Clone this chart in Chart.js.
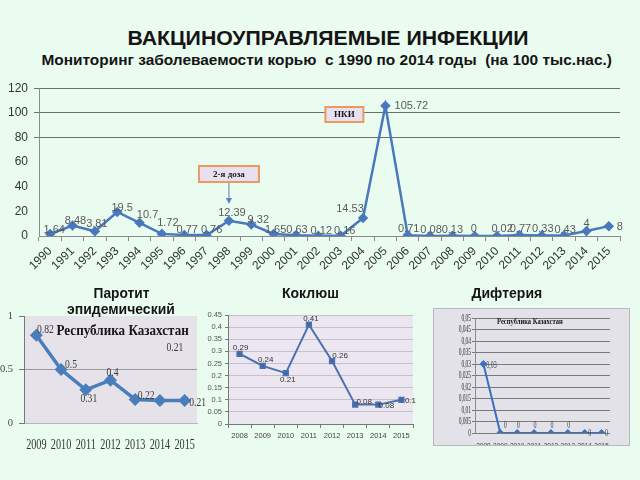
<!DOCTYPE html>
<html lang="ru">
<head>
  <meta charset="UTF-8">
  <title>Вакциноуправляемые инфекции</title>
  <script src="https://cdn.jsdelivr.net/npm/chart.js"></script>
  <style>
    html, body { margin: 0; padding: 0; }
    body {
      width: 640px; height: 480px; overflow: hidden; position: relative;
      background: #eafcf0;
      font-family: "Liberation Sans", Arial, sans-serif;
      color: #151515;
    }
    canvas { position: absolute; }
    .line { position: absolute; width: 1000px; text-align: center; white-space: nowrap; line-height: 1; }
    .line span { display: inline-block; transform-origin: center; }
    .bold { font-weight: bold; }
    .serif { font-family: "Liberation Serif", "Times New Roman", serif; }
    #diphPanel {
      position: absolute; left: 433px; top: 308px; width: 195px; height: 136px;
      background: #e4e2e9; border: 1px solid #b9b7c0;
    }
  </style>
</head>
<body>
  <div id="diphPanel"></div>
  <canvas id="measlesChart" width="640" height="215" style="left:0;top:75px"></canvas>
  <canvas id="mumpsChart" width="210" height="160" style="left:0;top:300px"></canvas>
  <canvas id="pertussisChart" width="220" height="150" style="left:200px;top:300px"></canvas>
  <canvas id="diphChart" width="196" height="137" style="left:433px;top:308px"></canvas>

  <div class="line bold" style="left:-172px;top:27px;font-size:21px" data-w="401"><span>ВАКЦИНОУПРАВЛЯЕМЫЕ ИНФЕКЦИИ</span></div>
  <div class="line bold" style="left:-173px;top:52px;font-size:15.5px" data-w="570"><span>Мониторинг заболеваемости корью&nbsp; с 1990 по 2014 годы&nbsp; (на 100 тыс.нас.)</span></div>

  <div class="line bold" style="left:-379px;top:286px;font-size:14.5px" data-w="56"><span>Паротит</span></div>
  <div class="line bold" style="left:-379px;top:302px;font-size:14.5px" data-w="108"><span>эпидемический</span></div>
  <div class="line bold" style="left:-190px;top:285px;font-size:15px" data-w="57"><span>Коклюш</span></div>
  <div class="line bold" style="left:7px;top:285px;font-size:15px" data-w="71"><span>Дифтерия</span></div>

  <div class="line bold serif" style="left:-377px;top:324px;font-size:14px" data-w="132"><span>Республика Казахстан</span></div>
  <div class="line bold serif" style="left:30px;top:317px;font-size:8.5px" data-w="66"><span>Республика Казахстан</span></div>

  <script>
    // Корь, 1990-2015 (на 100 тыс.)
    const years = ['1990', '1991', '1992', '1993', '1994', '1995', '1996', '1997', '1998', '1999', '2000', '2001', '2002',
                   '2003', '2004', '2005', '2006', '2007', '2008', '2009', '2010', '2011', '2012', '2013', '2014', '2015'];
    const measles = [1.64, 8.48, 3.81, 19.5, 10.7, 1.72, 0.77, 0.76, 12.39, 9.32, 1.65, 0.63, 0.12,
                     0.16, 14.53, 105.72, 0.71, 0.08, 0.13, 0, 0.02, 0.77, 0.33, 0.43, 4, 8];

    // Паротит эпидемический
    const mumpsYears = ['2009', '2010', '2011', '2012', '2013', '2014', '2015'];
    const mumps = [0.82, 0.5, 0.31, 0.4, 0.22, 0.21, 0.21];

    // Коклюш
    const pertussisYears = ['2008', '2009', '2010', '2011', '2012', '2013', '2014', '2015'];
    const pertussis = [0.29, 0.24, 0.21, 0.41, 0.26, 0.08, 0.08, 0.1];

    // Дифтерия
    const diphYears = ['2008', '2009', '2010', '2011', '2012', '2013', '2014', '2015'];
    const diphtheria = [0.03, 0, 0, 0, 0, 0, 0, 0];

    // where each value label sits relative to its point
    const measlesLabelPos = [[4, -4], [3, -5], [2, -7], [5, -4], [8, -8], [6, -11], [3, -5], [5, -5], [3, -8], [7, -5],
                             [2, -4], [1, -5], [3, -5], [4, -5], [-13, -9], [26, 0], [1, -6], [1, -6], [0, -6], [-1, -7],
                             [5, -7], [1, -6], [1, -7], [1, -6], [0, -7], [11, 1]];
    const mumpsLabelPos = [[9, -5], [10, -5], [3, 9], [2, -7], [11, -4], [15, -53], [13, 2]];
    const pertussisLabelPos = [[1, -6], [3, -6], [2, 7], [2, -6], [8, -5], [9, -3], [8, 1], [9, 1]];
    const diphLabelPos = [[8, 1], [5, -8], [1, -8], [1, -8], [1, -8], [1, -8], [5, 0], [5, 0]];

    const comma = v => String(+v.toFixed(3)).replace('.', ',');

    // text next to every point
    const valueLabels = {
      id: 'valueLabels',
      afterDatasetsDraw(chart, args, o) {
        if (!o.pos) return;
        const ctx = chart.ctx;
        const meta = chart.getDatasetMeta(0);
        const vals = chart.data.datasets[0].data;
        ctx.save();
        ctx.font = o.font;
        ctx.fillStyle = o.color;
        ctx.textAlign = 'center';
        ctx.textBaseline = 'middle';
        meta.data.forEach((pt, i) => {
          ctx.save();
          ctx.translate(pt.x + o.pos[i][0], pt.y + o.pos[i][1]);
          ctx.scale(o.sx || 1, 1);
          ctx.fillText(o.format ? o.format(vals[i]) : String(vals[i]), 0, 0);
          ctx.restore();
        });
        ctx.restore();
      }
    };

    // plot area fill
    const plotBg = {
      id: 'plotBg',
      beforeDraw(chart, args, o) {
        if (!o.color) return;
        const { ctx, chartArea: a } = chart;
        ctx.save();
        ctx.fillStyle = o.color;
        ctx.fillRect(a.left, a.top, a.width, a.height);
        ctx.restore();
      }
    };

    // condensed tick labels (the small charts use a narrow serif face)
    const narrowTicks = {
      id: 'narrowTicks',
      afterDraw(chart, args, o) {
        if (!o.axis) return;
        const ctx = chart.ctx;
        const s = chart.scales[o.axis];
        ctx.save();
        ctx.font = o.font;
        ctx.fillStyle = o.color;
        s.ticks.forEach((t, i) => {
          const txt = o.format ? o.format(t.value) : s.getLabelForValue(t.value);
          ctx.save();
          if (o.axis === 'x') {
            ctx.textAlign = 'center';
            ctx.textBaseline = 'middle';
            ctx.translate(s.getPixelForTick(i), s.top + o.gap);
          } else {
            ctx.textAlign = 'right';
            ctx.textBaseline = 'middle';
            ctx.translate(s.right - o.gap, s.getPixelForValue(t.value));
          }
          ctx.scale(o.sx, 1);
          ctx.fillText(txt, 0, 0);
          ctx.restore();
        });
        ctx.restore();
      }
    };

    Chart.register(valueLabels, plotBg, narrowTicks);

    // callouts on the measles chart
    const notes = {
      id: 'notes',
      afterDatasetsDraw(chart) {
        const { ctx, scales: { x } } = chart;
        const box = (text, cx, top, w, h) => {
          ctx.fillStyle = '#e8dff0';
          ctx.fillRect(cx - w / 2, top, w, h);
          ctx.strokeStyle = '#ec9a5c';
          ctx.lineWidth = 2;
          ctx.strokeRect(cx - w / 2, top, w, h);
          ctx.fillStyle = '#1a1a1a';
          ctx.font = 'bold 9px "Liberation Serif", serif';
          ctx.textAlign = 'center';
          ctx.textBaseline = 'middle';
          ctx.fillText(text, cx, top + h / 2 + 0.5);
        };
        ctx.save();
        const x98 = x.getPixelForValue(years.indexOf('1998'));
        box('2-я доза', x98, 91, 60, 16);
        ctx.strokeStyle = '#5a7fbf';
        ctx.fillStyle = '#5a7fbf';
        ctx.lineWidth = 1;
        ctx.beginPath();
        ctx.moveTo(x98, 108);
        ctx.lineTo(x98, 125);
        ctx.stroke();
        ctx.beginPath();
        ctx.moveTo(x98 - 3, 123);
        ctx.lineTo(x98 + 3, 123);
        ctx.lineTo(x98, 129);
        ctx.closePath();
        ctx.fill();
        const x05 = x.getPixelForValue(years.indexOf('2005'));
        box('НКИ', x05 - 41, 32, 38, 15);
        ctx.restore();
      }
    };

    const base = {
      responsive: false,
      animation: false,
      plugins: { legend: { display: false }, tooltip: { enabled: false } }
    };

    // main chart
    new Chart(document.getElementById('measlesChart'), {
      type: 'line',
      data: {
        labels: years,
        datasets: [{
          data: measles,
          borderColor: '#4a78bc',
          backgroundColor: '#4a78bc',
          borderWidth: 2.5,
          pointStyle: 'rectRot',
          pointRadius: 3.5,
          tension: 0
        }]
      },
      options: {
        ...base,
        layout: { padding: { top: 10, right: 20, left: 0, bottom: 0 } },
        plugins: {
          ...base.plugins,
          valueLabels: { pos: measlesLabelPos, font: '11px "Liberation Sans", sans-serif', color: '#5a5a5a' }
        },
        scales: {
          x: {
            offset: true,
            afterFit: s => { s.height = 54; },
            grid: { drawOnChartArea: false, offset: true, tickLength: 5, color: '#8a8a8a' },
            border: { color: '#8a8a8a' },
            ticks: { autoSkip: false, minRotation: 45, maxRotation: 45, padding: 3,
                     color: '#333', font: { family: 'Liberation Sans', size: 12 } }
          },
          y: {
            min: 0, max: 120,
            afterFit: s => { s.width = 39; },
            grid: { color: c => c.tick.value >= 80 ? '#6e6e6e' : 'rgba(0,0,0,0)', tickLength: 5 },
            border: { color: '#8a8a8a' },
            ticks: { stepSize: 20, padding: 6, color: '#333', font: { family: 'Liberation Sans', size: 12 } }
          }
        }
      },
      plugins: [notes]
    });

    // Паротит
    new Chart(document.getElementById('mumpsChart'), {
      type: 'line',
      data: {
        labels: mumpsYears,
        datasets: [{
          data: mumps,
          borderColor: '#4a7ebb',
          backgroundColor: '#4a7ebb',
          borderWidth: 3.5,
          pointStyle: 'rectRot',
          pointRadius: 4,
          tension: 0
        }]
      },
      options: {
        ...base,
        layout: { padding: { top: 16, right: 13, left: 0, bottom: 0 } },
        plugins: {
          ...base.plugins,
          plotBg: { color: '#e6e2ea' },
          valueLabels: { pos: mumpsLabelPos, font: '12px "Liberation Serif", serif', color: '#3a3a3a', sx: 0.8 },
          narrowTicks: { axis: 'x', font: '15px "Liberation Serif", serif', color: '#333', sx: 0.68, gap: 22 }
        },
        scales: {
          x: {
            offset: true,
            afterFit: s => { s.height = 37; },
            grid: { display: false, drawTicks: false },
            border: { color: '#b8b4bc' },
            ticks: { display: false }
          },
          y: {
            min: 0, max: 1,
            afterFit: s => { s.width = 24; },
            grid: { color: c => c.tick.value === 0.5 ? '#9a9a9a' : 'rgba(0,0,0,0)', tickColor: '#777', tickLength: 5 },
            border: { color: '#777' },
            ticks: { stepSize: 0.5, padding: 6, color: '#444', font: { family: 'Liberation Serif', size: 10.5 },
                     callback: v => String(+v) }
          }
        }
      }
    });

    // Коклюш
    new Chart(document.getElementById('pertussisChart'), {
      type: 'line',
      data: {
        labels: pertussisYears,
        datasets: [{
          data: pertussis,
          borderColor: '#4a70ad',
          backgroundColor: '#3f66a5',
          borderWidth: 2,
          pointStyle: 'rect',
          pointRadius: 3,
          tension: 0
        }]
      },
      options: {
        ...base,
        layout: { padding: { top: 15, right: 7, left: 0, bottom: 0 } },
        plugins: {
          ...base.plugins,
          plotBg: { color: '#ebe6f0' },
          valueLabels: { pos: pertussisLabelPos, font: '8px "Liberation Sans", sans-serif', color: '#333' }
        },
        scales: {
          x: {
            offset: true,
            afterFit: s => { s.height = 26; },
            grid: { drawOnChartArea: false, offset: true, tickLength: 4, color: '#777' },
            border: { color: '#777' },
            ticks: { autoSkip: false, maxRotation: 0, padding: 3, color: '#444',
                     font: { family: 'Liberation Sans', size: 7.5 } }
          },
          y: {
            min: 0, max: 0.45,
            afterFit: s => { s.width = 28; },
            grid: { color: '#c4c0cc', tickColor: '#777', tickLength: 3 },
            border: { color: '#777' },
            ticks: { stepSize: 0.05, padding: 3, color: '#555', font: { family: 'Liberation Sans', size: 7.5 },
                     callback: v => String(+v.toFixed(2)) }
          }
        }
      }
    });

    // Дифтерия
    new Chart(document.getElementById('diphChart'), {
      type: 'line',
      data: {
        labels: diphYears,
        datasets: [{
          data: diphtheria,
          borderColor: '#3d6fc0',
          backgroundColor: '#3d6fc0',
          borderWidth: 2,
          pointStyle: 'rectRot',
          pointRadius: 2.5,
          tension: 0
        }]
      },
      options: {
        ...base,
        layout: { padding: { top: 10, right: 19, left: 0, bottom: 0 } },
        plugins: {
          ...base.plugins,
          valueLabels: { pos: diphLabelPos, font: '10px "Liberation Serif", serif', color: '#444', sx: 0.6, format: comma },
          narrowTicks: { axis: 'y', font: '11px "Liberation Serif", serif', color: '#333', sx: 0.5, gap: 4, format: comma }
        },
        scales: {
          x: {
            offset: true,
            afterFit: s => { s.height = 12; },
            grid: { display: false, drawTicks: false },
            border: { display: false },
            ticks: { autoSkip: false, minRotation: 0, maxRotation: 0, padding: 9, color: '#444',
                     font: { family: 'Liberation Sans', size: 6.5 } }
          },
          y: {
            min: 0, max: 0.05,
            afterFit: s => { s.width = 42; },
            grid: { color: '#7a7a7a', tickColor: '#7a7a7a', tickLength: 3 },
            border: { color: '#8a8a8a' },
            ticks: { stepSize: 0.005, display: false }
          }
        }
      }
    });

    // squeeze/stretch headings to the widths seen in the original
    document.querySelectorAll('.line[data-w]').forEach(el => {
      const span = el.querySelector('span');
      const r = +el.dataset.w / span.offsetWidth;
      span.style.transform = 'scaleX(' + r.toFixed(3) + ')';
    });
  </script>
</body>
</html>
